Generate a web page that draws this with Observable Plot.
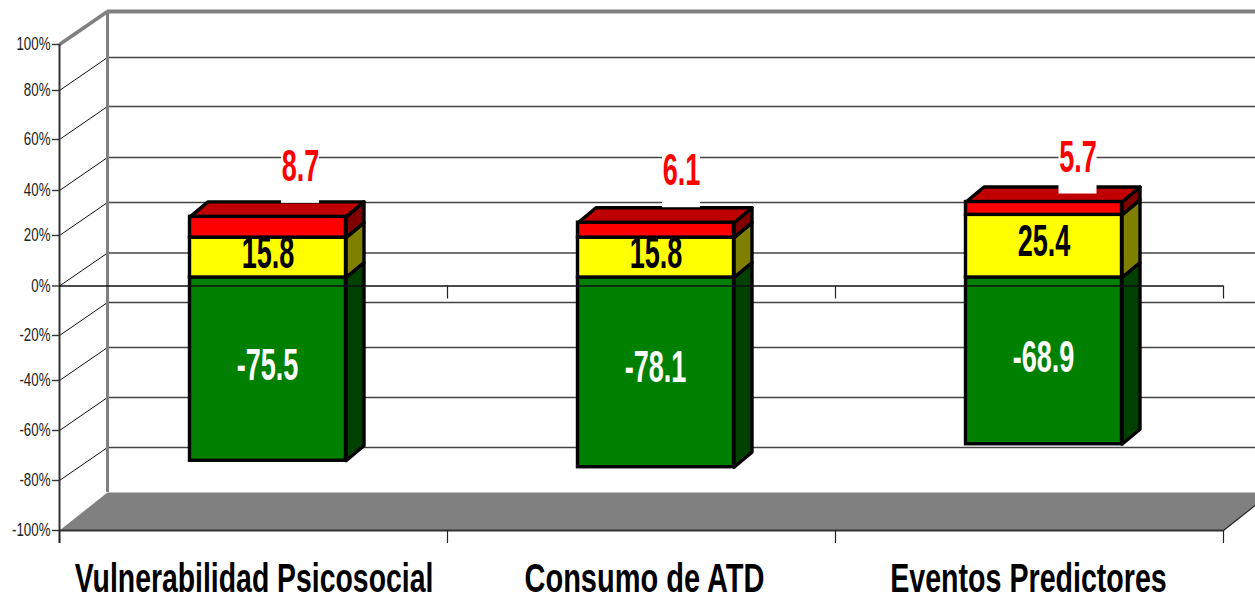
<!DOCTYPE html>
<html>
<head>
<meta charset="utf-8">
<script src="https://cdn.jsdelivr.net/npm/d3@7"></script>
<script src="https://cdn.jsdelivr.net/npm/@observablehq/plot@0.6"></script>
<style>
html,body{margin:0;padding:0;background:#fff;overflow:hidden}
svg{display:block}
</style>
</head>
<body>
<div id="chart"></div>
<script>
const categorias = ["Vulnerabilidad Psicosocial", "Consumo de ATD", "Eventos Predictores"];
const verde = [75.5, 78.1, 68.9];
const amarillo = [15.8, 15.8, 25.4];
const rojo = [8.7, 6.1, 5.7];
const yTicks = [-100, -80, -60, -40, -20, 0, 20, 40, 60, 80, 100];
const xTicks = [0, 1, 2, 3];

// scales (the reference's axis is pixel-rounded, so the y scale is piecewise)
const xScale = {type: "linear", domain: [0, 3], range: [59, 1223]};
const yScale = {type: "linear", domain: yTicks, range: [530, 480, 430, 380, 335, 285.5, 235, 190, 139, 90, 44]};
const X = Plot.scale({x: xScale});
const Y = Plot.scale({y: yScale});
const sx = (v, px) => X.invert(X.apply(v) + px);
const sy = (v, px) => Y.invert(Y.apply(v) + px);

// projection constants
const wallDx = 48, wallDy = -33, floorDy = -38;
const barPlaneDx = 14.5, barPlaneDy = -8.5, barHalf = 78, barDx = 18, barDy = -15;

const bars = categorias.map((c, i) => ({
  i, c,
  center: i + 0.5,
  g: -verde[i], a: amarillo[i], top: amarillo[i] + rojo[i]
}));
const bx = (b, side, d = 0) => sx(b.center, barPlaneDx + side * barHalf + d);
const by = (v, d = 0) => sy(v, barPlaneDy + d);

function polys(list) {
  return list.flatMap((pts, id) => pts.map(([x, y]) => ({id, x, y})));
}
const poly = (list, fill) => Plot.line(polys(list), {
  x: "x", y: "y", z: "id", fill, stroke: "black", strokeWidth: 3.4,
  curve: "linear-closed", strokeLinejoin: "round"
});
const side = (b, lo, hi) => [
  [bx(b, 1), by(lo)], [bx(b, 1), by(hi)],
  [bx(b, 1, barDx), by(hi, barDy)], [bx(b, 1, barDx), by(lo, barDy)]
];
const topFace = b => [
  [bx(b, -1), by(b.top)], [bx(b, 1), by(b.top)],
  [bx(b, 1, barDx), by(b.top, barDy)], [bx(b, -1, barDx), by(b.top, barDy)]
];
const front = (lo, hi, fill) => Plot.rect(bars, {
  x1: b => bx(b, -1), x2: b => bx(b, 1),
  y1: b => by(lo(b)), y2: b => by(hi(b)),
  fill, stroke: "black", strokeWidth: 3.4
});

// hand-placed red labels in the reference (pixel offsets from the front top of each bar)
const rojoDx = [32.5, 25.5, 34];
const rojoDy = [-13.5, -15, -8];
const boxW = 19, boxH = 57, textUp = -36.5;
const boxBottom = b => by(b.top, rojoDy[b.i]);

// category label placement (pixels off the category centre) and horizontal narrowing
const catDx = [0.5, 3, -1];
const catNarrow = [0.71, 0.725, 0.715];

const plot = Plot.plot({
  width: 1255, height: 600,
  marginTop: 0, marginBottom: 0, marginLeft: 0, marginRight: 0,
  style: {background: "white", fontFamily: "'Liberation Sans', Arial, sans-serif", overflow: "hidden"},
  x: {...xScale, axis: null},
  y: {...yScale, axis: null},
  marks: [
    // floor
    Plot.line(polys([[
      [0, -100], [sx(0, wallDx), sy(-100, floorDy)], [sx(3, wallDx), sy(-100, floorDy)], [3, -100]
    ]]), {x: "x", y: "y", z: "id", fill: "#808080", stroke: "none", curve: "linear-closed"}),
    Plot.link([3], {x1: d => d, y1: -100, x2: d => sx(d, wallDx), y2: sy(-100, floorDy), stroke: "#222", strokeWidth: 1.2}),
    // back wall gridlines
    Plot.ruleY(yTicks.slice(1, -1), {
      x1: sx(0, wallDx), x2: sx(3, wallDx), y: d => sy(d, wallDy), stroke: "#444", strokeWidth: 1.4
    }),
    // side wall slanted lines
    Plot.link(yTicks.slice(1, -1), {
      x1: 0, y1: d => d, x2: sx(0, wallDx), y2: d => sy(d, wallDy), stroke: "#111", strokeWidth: 1
    }),
    // walls' gray edges
    Plot.ruleX([sx(0, wallDx)], {y1: sy(100, wallDy), y2: sy(-100, floorDy), stroke: "#808080", strokeWidth: 3}),
    Plot.ruleY([sy(100, wallDy)], {x1: sx(0, wallDx), x2: sx(3, wallDx), stroke: "#808080", strokeWidth: 4}),
    Plot.link([100], {x1: 0, y1: d => d, x2: sx(0, wallDx), y2: d => sy(d, wallDy), stroke: "#808080", strokeWidth: 3.5}),
    // bars: side and top faces
    poly(bars.map(b => side(b, b.g, 0)), "#004000"),
    poly(bars.map(b => side(b, 0, b.a)), "#808000"),
    poly(bars.map(b => side(b, b.a, b.top)), "#800000"),
    poly(bars.map(topFace), "#c00000"),
    // bars: front faces
    front(b => b.g, () => 0, "#008000"),
    front(() => 0, b => b.a, "#ffff00"),
    front(b => b.a, b => b.top, "#ff0000"),
    // axes
    Plot.ruleX([0], {y1: 100, y2: sy(-100, 13), stroke: "#333", strokeWidth: 2}),
    Plot.ruleY(yTicks, {x1: sx(0, -7), x2: 0, stroke: "#333", strokeWidth: 1.4}),
    Plot.ruleY([0], {x1: 0, x2: 3, stroke: "#111", strokeWidth: 1.4}),
    Plot.ruleY([-100], {x1: 0, x2: 3, stroke: "#333", strokeWidth: 2}),
    Plot.ruleX(xTicks.slice(1), {y1: 0, y2: sy(0, 13), stroke: "#222", strokeWidth: 1.2}),
    Plot.ruleX(xTicks, {y1: -100, y2: sy(-100, 13), stroke: "#222", strokeWidth: 1.2}),
    Plot.text(yTicks, {
      x: sx(0, -9), y: d => d, text: d => d + "%", textAnchor: "end",
      fontSize: 18, fill: "#222", className: "ylab"
    }),
    // label boxes and value labels
    Plot.rect(bars, {
      x1: b => bx(b, 0, rojoDx[b.i] - boxW), x2: b => bx(b, 0, rojoDx[b.i] + boxW),
      y1: boxBottom, y2: b => sy(boxBottom(b), -boxH), fill: "white"
    }),
    Plot.text(bars, {
      x: b => bx(b, 0, rojoDx[b.i]), y: b => sy(boxBottom(b), textUp),
      text: b => rojo[b.i].toFixed(1), fill: "#ff0000", fontSize: 44, fontWeight: "bold", className: "vlab"
    }),
    Plot.text(bars, {
      x: b => bx(b, 0), y: b => by(b.a / 2, -4),
      text: b => amarillo[b.i].toFixed(1), fill: "black", fontSize: 44, fontWeight: "bold", className: "vlab"
    }),
    Plot.text(bars, {
      x: b => bx(b, 0, -0.5), y: b => by(b.g / 2, -1.5),
      text: b => b.g.toFixed(1), fill: "white", fontSize: 44, fontWeight: "bold", className: "vlab"
    }),
    // category labels
    Plot.text(bars, {
      x: b => sx(b.center, catDx[b.i]), y: sy(-100, 48.5), text: "c", fill: "black",
      fontSize: 40, fontWeight: "bold", className: "clab"
    })
  ]
});
document.getElementById("chart").appendChild(plot);

// the reference's type is condensed: narrow the text horizontally
const narrow = {ylab: () => 0.74, vlab: () => 0.615, clab: i => catNarrow[i]};
for (const [cls, k] of Object.entries(narrow)) {
  d3.select(plot).selectAll(`g.${cls} text`).attr("transform", function (_, i) {
    return (this.getAttribute("transform") || "") + ` scale(${k(i)},1)`;
  });
}
</script>
</body>
</html>
